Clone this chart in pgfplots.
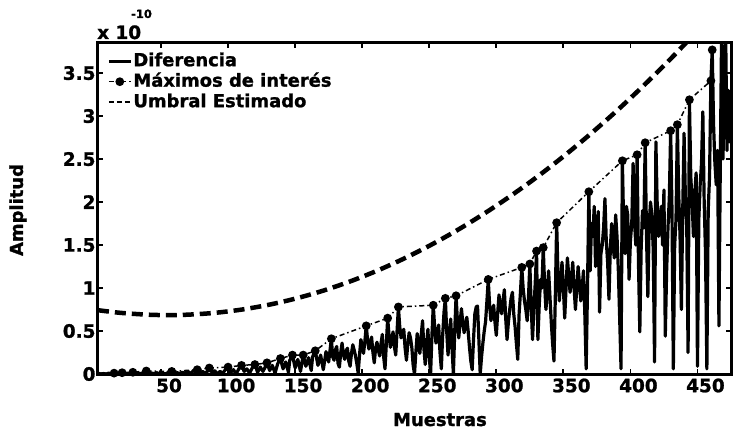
\documentclass[border=0pt]{standalone}
\usepackage{pgfplots}
\pgfplotsset{compat=1.18}
\usepackage{fontspec}
\setmainfont{DejaVu Sans}
\newfontfamily\heavy[FakeBold=1.2]{DejaVu Sans Bold}

\pgfplotstableread{
x y
3 0.742
20 0.711
40 0.690
55 0.685
70 0.690
90 0.711
110 0.749
130 0.804
150 0.876
170 0.965
190 1.071
210 1.194
230 1.334
250 1.491
270 1.665
290 1.856
310 2.064
330 2.288
350 2.530
370 2.789
390 3.064
410 3.357
430 3.666
450 3.993
}\umbral

\pgfplotstableread{
x y
2 0.01
15 0.01
21 0.015
29 0.02
39 0.035
58 0.03
77 0.05
86 0.07
100 0.08
110 0.10
120 0.11
129 0.13
139 0.18
148 0.22
156 0.22
165 0.27
177 0.41
203 0.56
219 0.65
227 0.78
253 0.80
262 0.88
270 0.91
294 1.10
319 1.24
325 1.28
330 1.43
335 1.47
345 1.76
369 2.12
394 2.48
405 2.55
411 2.69
430 2.83
435 2.90
444 3.19
460 3.41
461 3.77
}\maximos

\begin{document}
\begin{tikzpicture}
\useasboundingbox (-98bp,-60bp) rectangle (637bp,374bp);
\begin{axis}[
    name=ax,
    scale only axis,
    width=633bp, height=331bp,
    xmin=3, xmax=475,
    ymin=0, ymax=3.85,
    xtick={50,100,...,450},
    ytick={0,0.5,...,3.5},
    tick align=inside,
    xtick pos=both, ytick pos=both,
    major tick length=5bp,
    axis line style={line width=3bp},
    tick style={line width=1.8bp, black},
    /pgf/number format/assume math mode=true,
    ticklabel style={font=\fontsize{18.5}{18.5}\selectfont\heavy},
    xticklabel style={xshift=8bp, yshift=-1bp},
    yticklabel style={xshift=1bp},
    legend cell align=left,
    legend image code/.code={\draw[#1,mark repeat=2,mark phase=2] plot coordinates {(0bp,0bp)(11bp,0bp)(22bp,0bp)};},
    legend style={draw=none, fill=none, at={(axis description cs:0,1)}, anchor=north west,
        xshift=9bp, yshift=-8bp, inner sep=0pt, row sep=0.5bp,
        font=\fontsize{18}{18}\selectfont\heavy,
        nodes={inner sep=1bp, text height=14bp, text depth=4bp},
        /tikz/every even column/.append style={column sep=1bp}},
]
\addplot[black, line width=3.2bp, line join=round] coordinates {
(3,0.01)(5,0.0)(7,0.005)(9,0.0)(11,0.01)(13,0.0)(15,0.01)(17,0.0)(19,0.015)(21,0.015)
(23,0.0)(25,0.01)(27,0.005)(29,0.02)(31,0.0)(33,0.01)(35,0.005)(37,0.02)(39,0.035)(41,0.0)
(43,0.01)(45,0.005)(47,0.015)(49,0.0)(51,0.01)(53,0.0)(55,0.015)(57,0.005)(58,0.03)(60,0.0)
(62,0.015)(64,0.005)(66,0.02)(68,0.01)(70,0.03)(72,0.005)(74,0.035)(77,0.05)(79,0.01)(81,0.03)
(83,0.005)(85,0.04)(86,0.07)(88,0.02)(90,0.04)(92,0.0)(94,0.03)(96,0.01)(98,0.05)(100,0.08)
(102,0.02)(104,0.05)(106,0.0)(108,0.06)(110,0.10)(112,0.03)(114,0.06)(116,0.01)(118,0.07)(120,0.11)
(122,0.02)(124,0.08)(126,0.03)(128,0.09)(129,0.13)(131,0.04)(133,0.10)(135,0.01)(137,0.12)(139,0.18)
(141,0.06)(143,0.14)(145,0.02)(146,0.16)(148,0.22)(150,0.07)(152,0.17)(154,0.03)(156,0.22)(158,0.09)
(160,0.19)(162,0.04)(163,0.20)(165,0.27)(167,0.10)(169,0.22)(171,0.05)(173,0.26)(175,0.14)(177,0.41)
(178,0.20)(179,0.16)(180,0.28)(181,0.32)(182,0.12)(183,0.08)(184,0.25)(185,0.36)(186,0.22)(187,0.17)
(188,0.27)(189,0.30)(190,0.15)(191,0.09)(192,0.24)(193,0.34)(194,0.28)(195,0.21)(196,0.12)(197,0.01)
(198,0.22)(199,0.40)(200,0.33)(201,0.24)(202,0.38)(203,0.56)(204,0.40)(205,0.29)(206,0.35)(207,0.43)
(208,0.25)(209,0.13)(210,0.30)(211,0.37)(212,0.28)(213,0.21)(214,0.35)(215,0.46)(216,0.20)(217,0.06)
(218,0.35)(219,0.65)(220,0.45)(221,0.31)(222,0.40)(223,0.49)(224,0.32)(225,0.22)(226,0.50)(227,0.78)
(228,0.55)(229,0.42)(230,0.48)(231,0.52)(232,0.30)(233,0.16)(234,0.35)(235,0.48)(236,0.42)(237,0.31)
(238,0.10)(239,0.0)(240,0.25)(241,0.47)(242,0.35)(243,0.24)(244,0.45)(245,0.62)(246,0.30)(247,0.11)
(248,0.35)(249,0.52)(250,0.20)(251,0.0)(252,0.45)(253,0.80)(254,0.55)(255,0.36)(256,0.48)(257,0.57)
(258,0.25)(259,0.06)(260,0.45)(261,0.72)(262,0.88)(263,0.50)(264,0.22)(265,0.45)(266,0.64)(267,0.30)
(268,0.0)(269,0.50)(270,0.91)(271,0.62)(272,0.42)(273,0.60)(274,0.76)(275,0.60)(276,0.48)(277,0.58)
(278,0.66)(279,0.50)(280,0.31)(281,0.15)(282,0.05)(283,0.40)(284,0.70)(285,0.78)(286,0.79)(287,0.40)
(288,0.0)(289,0.20)(290,0.36)(291,0.50)(292,0.61)(293,0.85)(294,1.10)(295,0.80)(296,0.62)(297,0.72)
(298,0.80)(299,0.60)(300,0.45)(301,0.70)(302,0.92)(303,0.80)(304,0.70)(305,0.85)(306,0.98)(307,0.65)
(308,0.40)(309,0.60)(310,0.75)(311,0.88)(312,0.95)(313,0.70)(314,0.55)(315,0.35)(316,0.17)(317,0.70)
(318,0.95)(319,1.24)(320,1.00)(321,0.85)(322,0.75)(323,0.62)(324,0.90)(325,1.28)(326,0.80)(327,0.40)
(328,0.75)(329,1.05)(330,1.43)(331,0.40)(332,0.80)(333,1.10)(334,1.00)(335,1.47)(336,1.05)(337,0.75)
(338,0.95)(339,1.20)(340,0.90)(341,0.60)(342,0.35)(343,0.15)(344,0.90)(345,1.76)(346,1.15)(347,0.85)
(348,1.10)(349,1.30)(350,1.00)(351,0.65)(352,1.00)(353,1.35)(354,1.15)(355,0.95)(356,1.10)(357,1.30)
(358,1.00)(359,0.75)(360,1.00)(361,1.25)(362,1.05)(363,0.85)(364,1.00)(365,1.20)(366,0.70)(367,0.06)
(368,1.00)(369,2.12)(370,1.20)(371,1.75)(372,1.60)(373,1.95)(374,1.25)(375,1.55)(376,1.89)(377,0.72)
(378,1.40)(379,1.50)(380,1.70)(381,2.04)(382,1.55)(383,1.30)(384,0.87)(385,1.45)(386,1.75)(387,1.50)
(388,1.35)(389,1.85)(390,1.60)(391,1.20)(392,0.64)(393,0.06)(394,2.48)(395,1.70)(396,1.40)(397,1.95)
(398,1.85)(399,1.10)(400,1.55)(401,1.75)(402,2.45)(403,1.80)(404,1.50)(405,2.55)(406,1.30)(407,0.49)
(408,1.45)(409,1.90)(410,1.70)(411,2.69)(412,1.60)(413,0.90)(414,1.75)(415,2.00)(416,1.85)(417,1.45)
(418,0.14)(419,2.70)(420,1.95)(421,1.60)(422,1.80)(423,1.95)(424,1.50)(425,2.14)(426,0.44)(427,1.20)
(428,1.70)(429,2.05)(430,2.83)(431,1.90)(432,0.06)(433,1.50)(434,1.80)(435,2.90)(436,2.10)(437,1.60)
(438,0.75)(439,1.90)(440,2.80)(441,2.05)(442,1.70)(443,0.25)(444,3.19)(445,2.30)(446,2.00)(447,1.60)
(448,2.10)(449,2.34)(450,0.09)(451,1.80)(452,2.20)(453,2.45)(454,3.05)(455,2.00)(456,1.40)(457,0.06)
(458,1.90)(459,2.30)(460,3.41)(461,3.77)(462,2.90)(463,2.45)(464,2.20)(465,2.60)(466,0.56)(467,2.40)
(468,4.00)(469,2.50)(470,3.20)(471,4.00)(472,2.60)(473,3.30)(474,2.70)(475,3.00)
};
\addlegendentry{Diferencia}
\addplot[black, line width=1.5bp, dash pattern=on 5bp off 3bp on 1.5bp off 3bp,
    mark=*, mark size=3.6bp, mark options={solid}] table {\maximos};
\addlegendentry{Máximos de interés}
\addplot[black, line width=4.5bp, dash pattern=on 11bp off 6bp, smooth,
    legend image code/.code={\draw[black, line width=2bp, dash pattern=on 5bp off 3bp] (0bp,0bp) -- (22bp,0bp);}]
    table {\umbral};
\addlegendentry{Umbral Estimado}
\end{axis}
\node[anchor=base west, font=\fontsize{18.5}{18.5}\selectfont\heavy, inner sep=0pt]
    at ([xshift=-1bp, yshift=4bp]ax.north west) {x 10};
\node[anchor=base west, font=\fontsize{11.5}{11.5}\selectfont\heavy, inner sep=0pt]
    at ([xshift=33bp, yshift=25bp]ax.north west) {-10};
\node[font=\fontsize{18}{18}\selectfont\heavy, anchor=base] at (342bp,-52bp) {Muestras};
\node[font=\fontsize{18}{18}\selectfont\heavy, rotate=90] at (-80bp,164bp) {Amplitud};
\end{tikzpicture}
\end{document}
